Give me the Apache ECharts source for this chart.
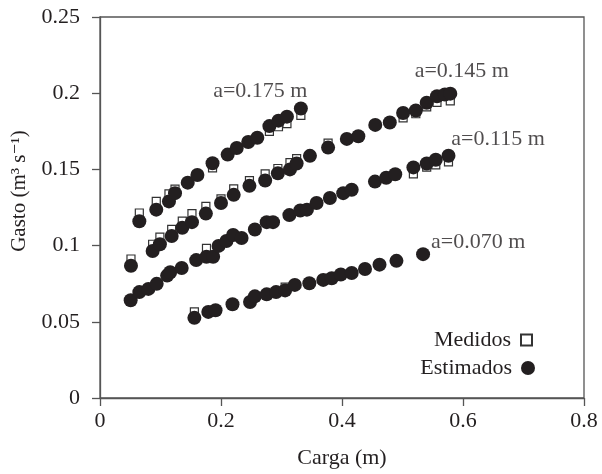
<!DOCTYPE html>
<html>
<head>
<meta charset="utf-8">
<title>Gasto vs Carga</title>
<script src="https://cdn.jsdelivr.net/npm/echarts/dist/echarts.min.js"></script>
<style>
  html, body { margin: 0; padding: 0; background: #fff; }
  #chart { width: 602px; height: 474px; }
</style>
</head>
<body>
<div id="chart"></div>
<script>
// ejes
const xTicks = [0, 0.2, 0.4, 0.6, 0.8];
const yTicks = [0, 0.05, 0.1, 0.15, 0.2, 0.25];

// a = 0.175 m
const x175 = [0.065, 0.093, 0.114, 0.124, 0.145, 0.161, 0.186, 0.211, 0.226, 0.245, 0.260, 0.280, 0.295, 0.309, 0.332];
const est175 = [0.116, 0.1236, 0.129, 0.1344, 0.1413, 0.1463, 0.154, 0.1597, 0.164, 0.168, 0.1708, 0.1784, 0.182, 0.1846, 0.190];
const med175 = [0.1214, 0.129, 0.134, 0.137, 0.1413, 0.1463, 0.151, 0.1597, 0.164, 0.168, 0.1708, 0.175, 0.178, 0.180, 0.1855];

// a = 0.145 m
const x145 = [0.0512, 0.087, 0.099, 0.1185, 0.136, 0.152, 0.175, 0.200, 0.221, 0.247, 0.273, 0.294, 0.314, 0.325, 0.347, 0.377, 0.408, 0.427, 0.455, 0.479, 0.501, 0.522, 0.540, 0.557, 0.570, 0.579];
const est145 = [0.0868, 0.0965, 0.1009, 0.1063, 0.1117, 0.1154, 0.121, 0.128, 0.1333, 0.1392, 0.1427, 0.1474, 0.150, 0.1539, 0.1589, 0.1643, 0.170, 0.1718, 0.1792, 0.1808, 0.187, 0.1886, 0.1937, 0.198, 0.1991, 0.1997];
const med145 = [0.0912, 0.1009, 0.1056, 0.1107, 0.1161, 0.121, 0.1257, 0.1306, 0.1372, 0.1426, 0.1471, 0.1506, 0.1544, 0.1571, 0.1589, 0.1673, 0.170, 0.1718, 0.1792, 0.1808, 0.1838, 0.1865, 0.191, 0.194, 0.1985, 0.195];

// a = 0.115 m
const x115 = [0.0507, 0.065, 0.080, 0.0937, 0.111, 0.116, 0.135, 0.159, 0.176, 0.187, 0.196, 0.209, 0.220, 0.234, 0.256, 0.2755, 0.286, 0.313, 0.331, 0.342, 0.358, 0.380, 0.402, 0.416, 0.4545, 0.473, 0.488, 0.518, 0.540, 0.555, 0.576];
const est115 = [0.0641, 0.0695, 0.0716, 0.0749, 0.0803, 0.0825, 0.0853, 0.0905, 0.0927, 0.0927, 0.0998, 0.103, 0.107, 0.105, 0.1106, 0.1154, 0.1154, 0.120, 0.123, 0.1236, 0.128, 0.1312, 0.1344, 0.1366, 0.142, 0.1445, 0.1468, 0.1513, 0.1539, 0.1563, 0.159];
const med115 = [0.0641, 0.0695, 0.0716, 0.0749, 0.0803, 0.0825, 0.0853, 0.0905, 0.0982, 0.0927, 0.0998, 0.103, 0.107, 0.105, 0.1106, 0.1154, 0.1154, 0.120, 0.123, 0.1236, 0.128, 0.1312, 0.1344, 0.1366, 0.142, 0.1445, 0.1468, 0.147, 0.1515, 0.153, 0.155];

// a = 0.070 m
const x070 = [0.156, 0.179, 0.191, 0.219, 0.248, 0.256, 0.2755, 0.291, 0.306, 0.322, 0.346, 0.369, 0.383, 0.398, 0.416, 0.438, 0.462, 0.490, 0.534];
const est070 = [0.0526, 0.0565, 0.0576, 0.0615, 0.063, 0.0667, 0.068, 0.0695, 0.0706, 0.0742, 0.0753, 0.0775, 0.0786, 0.081, 0.082, 0.0846, 0.0875, 0.090, 0.0944];
const med070 = [0.0565, 0.0565, 0.0576, 0.0615, 0.063, 0.0667, 0.068, 0.0695, 0.0727, 0.0742, 0.0753, 0.0775, 0.0786, 0.081, 0.082, 0.0846, 0.0875, 0.090, 0.0944];

// etiquetas de cada curva
const curveLabels = ['a=0.175 m', 'a=0.145 m', 'a=0.115 m', 'a=0.070 m'];
const curveLabelX = [0.265, 0.598, 0.658, 0.625];
const curveLabelY = [0.2013, 0.2143, 0.170, 0.102];

const FONT = '"Liberation Serif", "DejaVu Serif", serif';
const INK = '#231f20';
const AXIS = '#555555';

function pairs(xs, ys) {
    return xs.map((x, i) => [x, ys[i]]);
}

document.addEventListener('DOMContentLoaded', function() {
    const chart = echarts.init(document.getElementById('chart'));

    const xsAll = [x175, x145, x115, x070];
    const medAll = [med175, med145, med115, med070];
    const estAll = [est175, est145, est115, est070];

    let medidos = [];
    let estimados = [];
    xsAll.forEach((xs, k) => {
        medidos = medidos.concat(pairs(xs, medAll[k]));
        estimados = estimados.concat(pairs(xs, estAll[k]));
    });

    const labelData = curveLabels.map((t, i) => ({ value: [curveLabelX[i], curveLabelY[i]], name: t }));

    const axisCommon = {
        type: 'value',
        axisLine: { show: true, lineStyle: { color: AXIS, width: 1.3 } },
        axisTick: { show: true, inside: false, length: 8, lineStyle: { color: AXIS, width: 1.3 } },
        splitLine: { show: false },
        axisLabel: { fontFamily: FONT, fontSize: 22, color: INK }
    };

    const option = {
        animation: false,
        backgroundColor: '#fff',
        grid: {
            left: 100, right: 18, top: 17, bottom: 72,
            show: true, borderColor: AXIS, borderWidth: 1.3
        },
        xAxis: Object.assign({}, axisCommon, {
            min: xTicks[0],
            max: xTicks[xTicks.length - 1],
            interval: xTicks[1] - xTicks[0],
            name: 'Carga (m)',
            nameLocation: 'middle',
            nameGap: 49,
            nameTextStyle: { fontFamily: FONT, fontSize: 22, color: INK },
            axisLabel: Object.assign({}, axisCommon.axisLabel, { margin: 12 })
        }),
        yAxis: Object.assign({}, axisCommon, {
            min: yTicks[0],
            max: yTicks[yTicks.length - 1],
            interval: yTicks[1] - yTicks[0],
            axisLabel: Object.assign({}, axisCommon.axisLabel, { margin: 20 })
        }),
        legend: [
            {
                data: ['Medidos'],
                orient: 'vertical', align: 'right',
                right: 69, top: 329, padding: 0,
                itemWidth: 11, itemHeight: 11,
                textStyle: { fontFamily: FONT, fontSize: 22, color: INK, padding: [0, 5, 0, 0] }
            },
            {
                data: ['Estimados'],
                orient: 'vertical', align: 'right',
                right: 67, top: 357, padding: 0,
                itemWidth: 14, itemHeight: 14,
                textStyle: { fontFamily: FONT, fontSize: 22, color: INK, padding: [0, 4, 0, 0] }
            }
        ],
        graphic: [
            {
                type: 'text',
                x: 19, y: 191,
                rotation: Math.PI / 2,
                style: {
                    text: 'Gasto (m³ s⁻¹)',
                    font: '21px ' + FONT,
                    fill: INK,
                    align: 'center',
                    verticalAlign: 'middle'
                }
            }
        ],
        series: [
            {
                name: 'Medidos',
                type: 'scatter',
                symbol: 'rect',
                symbolSize: 8,
                itemStyle: { color: '#fff', borderColor: '#333', borderWidth: 1.2, opacity: 1 },
                data: medidos
            },
            {
                name: 'Estimados',
                type: 'scatter',
                symbol: 'circle',
                symbolSize: 14,
                itemStyle: { color: INK, opacity: 1 },
                data: estimados
            },
            {
                name: 'etiquetas',
                type: 'scatter',
                symbolSize: 0,
                silent: true,
                label: {
                    show: true,
                    position: 'inside',
                    formatter: p => p.name,
                    fontFamily: FONT,
                    fontSize: 22,
                    color: INK
                },
                data: labelData
            }
        ]
    };

    chart.setOption(option);
});
</script>
</body>
</html>
